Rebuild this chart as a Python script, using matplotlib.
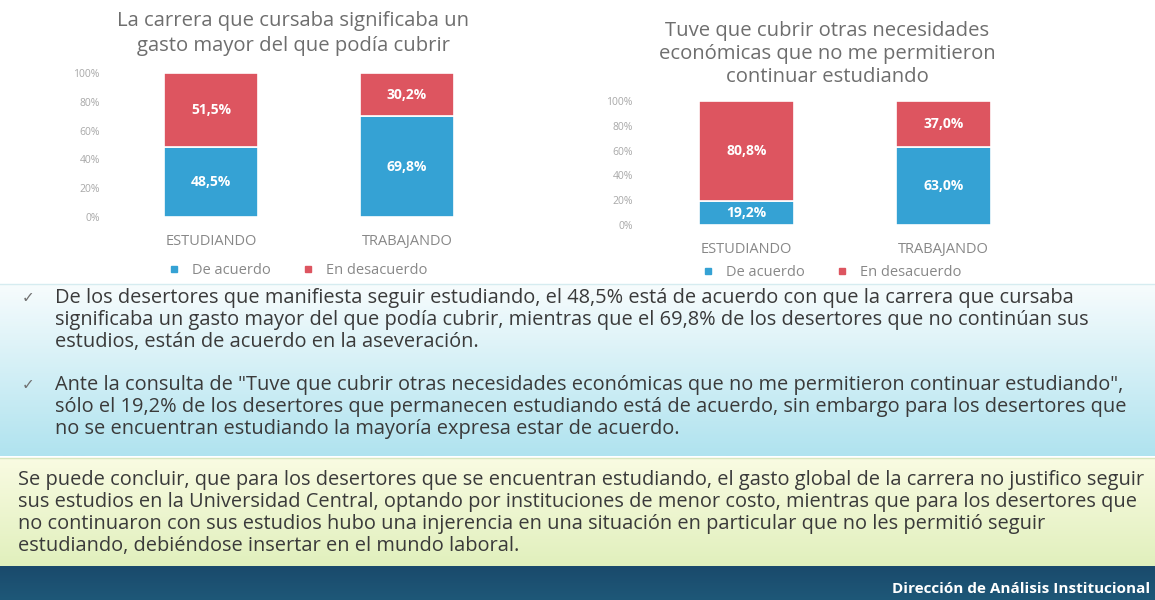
import matplotlib
matplotlib.use('Agg')
import matplotlib.pyplot as plt
import numpy as np
from matplotlib.lines import Line2D

plt.rcParams['font.family'] = ['Open Sans', 'DejaVu Sans']

# datos
grupos = ['ESTUDIANDO', 'TRABAJANDO']
series = ['De acuerdo', 'En desacuerdo']
titulo1 = 'La carrera que cursaba significaba un\ngasto mayor del que podía cubrir'
acuerdo1 = [48.5, 69.8]
desacuerdo1 = [51.5, 30.2]
titulo2 = 'Tuve que cubrir otras necesidades\neconómicas que no me permitieron\ncontinuar estudiando'
acuerdo2 = [19.2, 63.0]
desacuerdo2 = [80.8, 37.0]
yticks = [0, 20, 40, 60, 80, 100]
ytick_labels = ['0%', '20%', '40%', '60%', '80%', '100%']

texto1 = ('De los desertores que manifiesta seguir estudiando, el 48,5% está de acuerdo con que la carrera que cursaba\n'
          'significaba un gasto mayor del que podía cubrir, mientras que el 69,8% de los desertores que no continúan sus\n'
          'estudios, están de acuerdo en la aseveración.')
texto2 = ('Ante la consulta de "Tuve que cubrir otras necesidades económicas que no me permitieron continuar estudiando",\n'
          'sólo el 19,2% de los desertores que permanecen estudiando está de acuerdo, sin embargo para los desertores que\n'
          'no se encuentran estudiando la mayoría expresa estar de acuerdo.')
conclusion = ('Se puede concluir, que para los desertores que se encuentran estudiando, el gasto global de la carrera no justifico seguir\n'
              'sus estudios en la Universidad Central, optando por instituciones de menor costo, mientras que para los desertores que\n'
              'no continuaron con sus estudios hubo una injerencia en una situación en particular que no les permitió seguir\n'
              'estudiando, debiéndose insertar en el mundo laboral.')
pie = 'Dirección de Análisis Institucional'

azul = '#35a2d4'
rojo = '#dd5560'
gris = '#7a7a7a'

W, H = 1155, 600
fig = plt.figure(figsize=(11.55, 6), dpi=100)
fig.patch.set_facecolor('white')

# fondo: cajas de texto y barra inferior (coordenadas en pixeles)
bg = fig.add_axes([0, 0, 1, 1])
bg.axis('off')

def degradado(ax, x0, x1, y0, y1, c_arriba, c_abajo):
    c1 = np.array(matplotlib.colors.to_rgb(c_arriba))
    c2 = np.array(matplotlib.colors.to_rgb(c_abajo))
    t = np.linspace(0, 1, 64)[:, None]
    img = (c1 * (1 - t) + c2 * t)[:, None, :]
    ax.imshow(img, extent=[x0, x1, y1, y0], aspect='auto', zorder=0)

degradado(bg, 0, W, 284, 456, '#f7fcfd', '#b0e3ef')
bg.plot([0, W], [284, 284], color='#d6ecf0', lw=1)
degradado(bg, 0, W, 458, 566, '#f9fbe2', '#e1f0bd')
bg.plot([0, W], [458, 458], color='#d8e6c0', lw=1)
degradado(bg, 0, W, 566, 600, '#1a4a6c', '#1e5878')
bg.set_xlim(0, W)
bg.set_ylim(H, 0)

txt_kw = dict(fontsize=14.4, color='#3a3a3a', va='center', ha='left', linespacing=1.12)
bg.text(22, 298, '✓', fontsize=11, color='#707070', va='center', family=['DejaVu Sans'])
bg.text(55, 320, texto1, **txt_kw)
bg.text(22, 385, '✓', fontsize=11, color='#707070', va='center', family=['DejaVu Sans'])
bg.text(55, 407, texto2, **txt_kw)
bg.text(18, 513, conclusion, **txt_kw)
bg.text(1150, 593, pie, fontsize=11, color='white', fontweight='bold', ha='right', va='baseline')


def grafico(rect, titulo, acuerdo, desacuerdo, titulo_y, ls, ley_x, ley_y, pad):
    ax = fig.add_axes(rect)
    x = np.arange(len(grupos))
    b1 = ax.bar(x, acuerdo, 0.48, color=azul, edgecolor='white', linewidth=1.2, label=series[0])
    b2 = ax.bar(x, desacuerdo, 0.48, bottom=acuerdo, color=rojo, edgecolor='white', linewidth=1.2, label=series[1])
    for barras in (b1, b2):
        for r in barras:
            v = r.get_height()
            ax.text(r.get_x() + r.get_width() / 2, r.get_y() + v / 2, ('%.1f%%' % v).replace('.', ','),
                    ha='center', va='center', color='white', fontsize=10, fontweight='bold')
    ax.set_xlim(-0.5, 1.5)
    ax.set_ylim(0, 100)
    ax.set_yticks(yticks)
    ax.set_yticklabels(ytick_labels)
    ax.set_xticks(x)
    ax.set_xticklabels(grupos)
    ax.tick_params(axis='y', length=0, labelsize=7.5, labelcolor='#a8a8a8', pad=pad)
    ax.tick_params(axis='x', length=0, labelsize=10.5, labelcolor='#888888', pad=12)
    for s in ax.spines.values():
        s.set_visible(False)
    ax.set_facecolor('none')
    ax.text(ley_x, titulo_y, titulo, transform=ax.transAxes, ha='center', va='bottom',
            fontsize=14.6, color='#6e6e6e', linespacing=ls)
    h = [Line2D([], [], marker='s', ls='', color=azul, markersize=4),
         Line2D([], [], marker='s', ls='', color=rojo, markersize=4)]
    ax.legend(h, series, loc='center', bbox_to_anchor=(ley_x, ley_y), ncol=2, frameon=False,
              fontsize=10.5, labelcolor='#888888', handletextpad=0.2, columnspacing=1.6)
    return ax

grafico([113 / W, 1 - 217 / H, 392 / W, 144 / H], titulo1, acuerdo1, desacuerdo1, 1.12, 1.3, 0.46, -0.37, 9.5)
grafico([648 / W, 1 - 225 / H, 394 / W, 124 / H], titulo2, acuerdo2, desacuerdo2, 1.11, 1.2, 0.455, -0.38, 11)

fig.savefig('out.png', dpi=100)
